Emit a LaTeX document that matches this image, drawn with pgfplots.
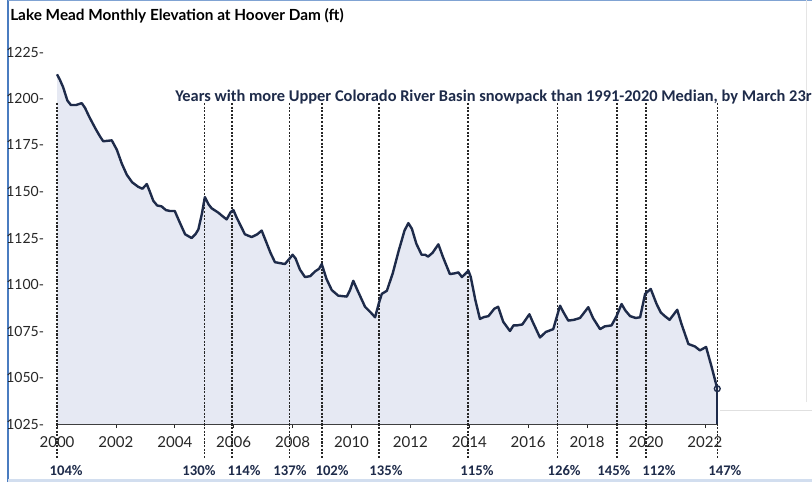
\documentclass[border=0pt]{standalone}
\usepackage{fontspec}
\setmainfont{Lato}
\newfontfamily\carlito{Carlito}
\usepackage{pgfplots}
\pgfplotsset{compat=1.18}
\definecolor{linec}{HTML}{1E2B4A}
\definecolor{fillc}{HTML}{E6E9F3}
\definecolor{framec}{HTML}{4A7CC0}
\newcommand\pct[2]{\node[font=\carlito\bfseries\fontsize{11}{13}\selectfont, text=linec, yshift=-34.5pt] at (axis cs:#1,1025) {#2\%};}
\begin{document}
\begin{tikzpicture}
\useasboundingbox (0,0) rectangle (609pt,361.5pt);
\fill[white] (0,0) rectangle (609pt,361.5pt);
\draw[framec, line width=1.5pt] (6pt,0) -- (6pt,361.5pt);
\draw[framec!70, line width=0.8pt] (6pt,361pt) -- (609pt,361pt);
\draw[framec!25, line width=2pt] (6pt,1pt) -- (609pt,1pt);
\draw[black!12, line width=0.6pt] (540pt,54pt) -- (609pt,54pt);
\draw[black!10, line width=0.6pt] (604.5pt,60pt) -- (604.5pt,361.5pt);
\node[anchor=west, inner sep=0pt, font=\bfseries\fontsize{11.5}{13}\selectfont] at (7.5pt,349.5pt) {Lake Mead Monthly Elevation at Hoover Dam (ft)};
\node[anchor=west, inner sep=0pt, text=linec, font=\carlito\bfseries\fontsize{12.3}{14}\selectfont] at (131.25pt,288.75pt) {Years with more Upper Colorado River Basin snowpack than 1991-2020 Median, by March 23rd};
\begin{axis}[
  at={(42.75pt,43.5pt)}, anchor=south west,
  scale only axis, width=495.2pt, height=279pt,
  xmin=2000, xmax=2022.42, ymin=1025, ymax=1225,
  clip=false,
  axis x line*=bottom, axis y line*=left,
  y axis line style={draw=none},
  x axis line style={black!85, line width=1pt},
  xtick={2000,2002,...,2022},
  ytick={1025,1050,...,1225},
  ytick style={draw=none},
  xtick style={black!85, line width=0.6pt},
  tick align=outside, major tick length=3pt,
  /pgf/number format/assume math mode=true,
  /pgf/number format/1000 sep={},
  tick label style={text=black!85},
  xticklabel style={yshift=-3pt, font=\fontsize{11.3}{13}\selectfont},
  yticklabel={\pgfmathprintnumber{\tick}-},
  yticklabel style={anchor=west, inner sep=0pt, xshift=-35.25pt, font=\fontsize{10.5}{12}\selectfont},
]
\addplot[fill=fillc, draw=none] coordinates {
(2000.00,1213) (2000.10,1210) (2000.21,1206) (2000.35,1199) (2000.47,1196.5) (2000.65,1196.5) (2000.84,1197.5) (2000.95,1195)
(2001.10,1190) (2001.30,1184) (2001.46,1179.6) (2001.57,1177) (2001.86,1177.5) (2002.03,1172.5) (2002.20,1165) (2002.37,1159)
(2002.55,1155) (2002.76,1152.5) (2002.90,1151.5) (2003.05,1154) (2003.15,1150) (2003.27,1145) (2003.40,1142.5) (2003.55,1142)
(2003.70,1140) (2003.84,1139.5) (2004.00,1139.5) (2004.15,1134) (2004.35,1127) (2004.57,1125) (2004.70,1127) (2004.80,1129.6)
(2004.92,1138) (2005.02,1147) (2005.15,1143) (2005.25,1141) (2005.48,1138.6) (2005.60,1137) (2005.76,1135) (2005.90,1139)
(2005.99,1140) (2006.10,1136) (2006.38,1127) (2006.61,1125.5) (2006.80,1127) (2006.95,1129) (2007.10,1123) (2007.25,1117)
(2007.40,1112) (2007.74,1111) (2007.90,1114) (2008.00,1116) (2008.10,1114) (2008.25,1108) (2008.42,1104) (2008.60,1104.5)
(2008.76,1107) (2008.90,1108.5) (2008.99,1111) (2009.15,1103) (2009.33,1097) (2009.55,1094) (2009.84,1093.5) (2009.95,1097)
(2010.06,1102) (2010.20,1097) (2010.46,1088) (2010.65,1085) (2010.80,1082.4) (2010.93,1090) (2011.03,1095) (2011.20,1096.6)
(2011.40,1106) (2011.60,1118) (2011.80,1129) (2011.93,1133) (2012.05,1130) (2012.20,1122) (2012.38,1116) (2012.50,1116)
(2012.60,1115) (2012.75,1117) (2012.95,1121.6) (2013.10,1115) (2013.34,1105.6) (2013.50,1106) (2013.63,1106.5) (2013.75,1104)
(2013.97,1107.4) (2014.05,1104) (2014.20,1092) (2014.36,1081.5) (2014.50,1082.5) (2014.65,1083) (2014.85,1087) (2014.98,1088)
(2015.15,1080) (2015.38,1075) (2015.50,1078) (2015.61,1078) (2015.80,1078.5) (2016.04,1084) (2016.15,1080) (2016.40,1071.5)
(2016.60,1074.5) (2016.85,1076) (2017.08,1088.6) (2017.20,1085) (2017.36,1080.6) (2017.55,1081) (2017.76,1082) (2018.04,1087.8)
(2018.20,1082) (2018.44,1076) (2018.60,1077.5) (2018.83,1078) (2019.00,1083) (2019.17,1089.5) (2019.30,1086) (2019.46,1083)
(2019.65,1082) (2019.80,1082.4) (2019.97,1095) (2020.16,1097.6) (2020.36,1089.5) (2020.50,1085) (2020.64,1083) (2020.80,1081)
(2021.06,1086.4) (2021.20,1079) (2021.44,1068) (2021.66,1066.7) (2021.83,1064.6) (2022.04,1066.4) (2022.23,1055.6) (2022.42,1044)
} \closedcycle;
\pgfplotsinvokeforeach{2000,2005,2005.95,2007.9,2009,2010.93,2013.95,2017,2019.02,2020,2022.42}{
  \draw[black!85, line width=1.1pt, dash pattern=on 1.6pt off 1.1pt] (axis cs:#1,1197.6) -- (axis cs:#1,1006.5);
}
\addplot[linec, line width=1.8pt, line join=round] coordinates {
(2000.00,1213) (2000.10,1210) (2000.21,1206) (2000.35,1199) (2000.47,1196.5) (2000.65,1196.5) (2000.84,1197.5) (2000.95,1195)
(2001.10,1190) (2001.30,1184) (2001.46,1179.6) (2001.57,1177) (2001.86,1177.5) (2002.03,1172.5) (2002.20,1165) (2002.37,1159)
(2002.55,1155) (2002.76,1152.5) (2002.90,1151.5) (2003.05,1154) (2003.15,1150) (2003.27,1145) (2003.40,1142.5) (2003.55,1142)
(2003.70,1140) (2003.84,1139.5) (2004.00,1139.5) (2004.15,1134) (2004.35,1127) (2004.57,1125) (2004.70,1127) (2004.80,1129.6)
(2004.92,1138) (2005.02,1147) (2005.15,1143) (2005.25,1141) (2005.48,1138.6) (2005.60,1137) (2005.76,1135) (2005.90,1139)
(2005.99,1140) (2006.10,1136) (2006.38,1127) (2006.61,1125.5) (2006.80,1127) (2006.95,1129) (2007.10,1123) (2007.25,1117)
(2007.40,1112) (2007.74,1111) (2007.90,1114) (2008.00,1116) (2008.10,1114) (2008.25,1108) (2008.42,1104) (2008.60,1104.5)
(2008.76,1107) (2008.90,1108.5) (2008.99,1111) (2009.15,1103) (2009.33,1097) (2009.55,1094) (2009.84,1093.5) (2009.95,1097)
(2010.06,1102) (2010.20,1097) (2010.46,1088) (2010.65,1085) (2010.80,1082.4) (2010.93,1090) (2011.03,1095) (2011.20,1096.6)
(2011.40,1106) (2011.60,1118) (2011.80,1129) (2011.93,1133) (2012.05,1130) (2012.20,1122) (2012.38,1116) (2012.50,1116)
(2012.60,1115) (2012.75,1117) (2012.95,1121.6) (2013.10,1115) (2013.34,1105.6) (2013.50,1106) (2013.63,1106.5) (2013.75,1104)
(2013.97,1107.4) (2014.05,1104) (2014.20,1092) (2014.36,1081.5) (2014.50,1082.5) (2014.65,1083) (2014.85,1087) (2014.98,1088)
(2015.15,1080) (2015.38,1075) (2015.50,1078) (2015.61,1078) (2015.80,1078.5) (2016.04,1084) (2016.15,1080) (2016.40,1071.5)
(2016.60,1074.5) (2016.85,1076) (2017.08,1088.6) (2017.20,1085) (2017.36,1080.6) (2017.55,1081) (2017.76,1082) (2018.04,1087.8)
(2018.20,1082) (2018.44,1076) (2018.60,1077.5) (2018.83,1078) (2019.00,1083) (2019.17,1089.5) (2019.30,1086) (2019.46,1083)
(2019.65,1082) (2019.80,1082.4) (2019.97,1095) (2020.16,1097.6) (2020.36,1089.5) (2020.50,1085) (2020.64,1083) (2020.80,1081)
(2021.06,1086.4) (2021.20,1079) (2021.44,1068) (2021.66,1066.7) (2021.83,1064.6) (2022.04,1066.4) (2022.23,1055.6) (2022.42,1044)
};
\addplot[linec, line width=1.2pt] coordinates {(2022.42,1044) (2022.42,1025)};
\addplot[only marks, mark=o, mark size=2.2pt, linec, mark options={line width=1pt, fill=fillc}] coordinates {(2022.42,1044)};
\pct{2000.31}{104}
\pct{2004.82}{130}
\pct{2006.35}{114}
\pct{2007.91}{137}
\pct{2009.34}{102}
\pct{2011.17}{135}
\pct{2014.26}{115}
\pct{2017.22}{126}
\pct{2018.91}{145}
\pct{2020.44}{112}
\pct{2022.68}{147}
\end{axis}
\end{tikzpicture}
\end{document}
